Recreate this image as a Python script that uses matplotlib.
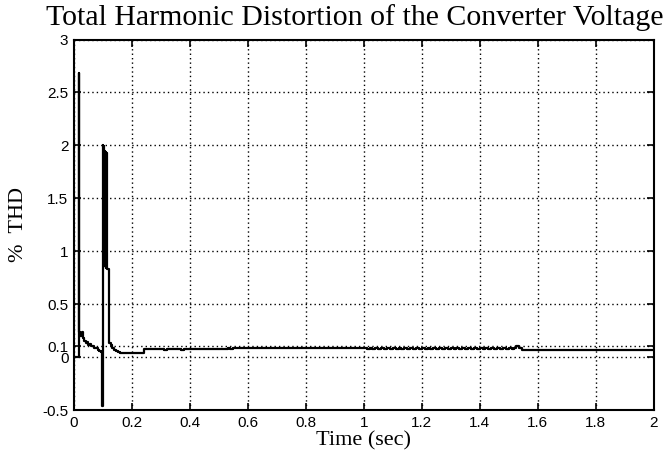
import matplotlib
matplotlib.use("Agg")
import matplotlib.pyplot as plt

# time (s) and %THD, drawn as a stair-step trace
time_s = [0.0, 0.017, 0.0178, 0.022, 0.026, 0.030, 0.035, 0.040, 0.045, 0.050,
          0.055, 0.060, 0.068, 0.075, 0.082, 0.088, 0.094, 0.098, 0.0995,
          0.1005, 0.101, 0.102, 0.1025, 0.1035, 0.104, 0.105, 0.1055, 0.1065,
          0.107, 0.108, 0.1085, 0.1095, 0.110, 0.111, 0.1115, 0.1125,
          0.113, 0.120, 0.126, 0.132, 0.138, 0.145, 0.152, 0.160, 0.240,
          0.300, 0.310, 0.320, 0.370, 0.380, 0.390, 0.520, 0.530, 0.540, 0.550,
          1.000, 1.010, 1.020, 1.030, 1.040, 1.050, 1.060, 1.070, 1.080, 1.090,
          1.100, 1.110, 1.120, 1.130, 1.140, 1.150, 1.160, 1.170, 1.180, 1.190,
          1.200, 1.210, 1.220, 1.230, 1.240, 1.250, 1.260, 1.270, 1.280, 1.290,
          1.300, 1.310, 1.320, 1.330, 1.340, 1.350, 1.360, 1.370, 1.380, 1.390,
          1.400, 1.410, 1.420, 1.430, 1.440, 1.450, 1.460, 1.470, 1.480, 1.490,
          1.500, 1.510, 1.520, 1.525, 1.535, 1.545, 1.550, 2.000]
thd_pct = [0.0, 2.68, 0.24, 0.20, 0.24, 0.18, 0.15, 0.13, 0.14, 0.11,
           0.12, 0.10, 0.09, 0.085, 0.07, 0.06, 0.05, -0.46, 2.0,
           0.95, 1.99, 0.92, 1.97, 0.90, 1.96, 0.88, 1.95, 0.87,
           1.94, 0.86, 1.94, 0.85, 1.93, 0.84, 1.93, 0.84,
           0.83, 0.13, 0.11, 0.09, 0.07, 0.055, 0.045, 0.040, 0.075,
           0.078, 0.070, 0.078, 0.070, 0.080, 0.078, 0.072, 0.082, 0.076, 0.085,
           0.085, 0.075, 0.090, 0.072, 0.088, 0.074, 0.086, 0.078, 0.090, 0.075,
           0.087, 0.073, 0.089, 0.076, 0.086, 0.072, 0.088, 0.078, 0.090, 0.074,
           0.085, 0.077, 0.089, 0.073, 0.087, 0.079, 0.086, 0.074, 0.090, 0.076,
           0.088, 0.072, 0.086, 0.078, 0.089, 0.075, 0.087, 0.073, 0.085, 0.079,
           0.088, 0.074, 0.086, 0.077, 0.090, 0.073, 0.087, 0.076, 0.085, 0.078,
           0.082, 0.080, 0.084, 0.100, 0.082, 0.070, 0.065, 0.065]

xticks = [0, 0.2, 0.4, 0.6, 0.8, 1, 1.2, 1.4, 1.6, 1.8, 2]
xtick_labels = ["0", "0.2", "0.4", "0.6", "0.8", "1", "1.2", "1.4", "1.6", "1.8", "2"]
yticks = [-0.5, 0, 0.1, 0.5, 1, 1.5, 2, 2.5, 3]
ytick_labels = ["-0.5", "0", "0.1", "0.5", "1", "1.5", "2", "2.5", "3"]

serif = "Liberation Serif"
sans = "Liberation Sans"

fig = plt.figure(figsize=(6.63, 4.61), dpi=100)
ax = fig.add_axes([0.1116, 0.1106, 0.8741, 0.8037])

ax.plot(time_s, thd_pct, drawstyle="steps-post", color="black", linewidth=1.6)

ax.set_xlim(0, 2)
ax.set_ylim(-0.5, 3)
ax.set_xticks(xticks)
ax.set_xticklabels(xtick_labels, fontfamily=sans, fontsize=11)
ax.set_yticks(yticks)
ax.set_yticklabels(ytick_labels, fontfamily=sans, fontsize=11)

ax.grid(True, color="black", linestyle=(0, (1, 2.2)), linewidth=1.0)
ax.tick_params(direction="in", length=5, width=1.2, top=True, right=True, pad=4)
for s in ax.spines.values():
    s.set_linewidth(1.5)

ax.set_xlabel("Time (sec)", fontfamily=serif, fontsize=16, labelpad=1)
ax.set_ylabel("%  THD", fontfamily=serif, fontsize=16, labelpad=10)
fig.text(0.5355, 0.962, "Total Harmonic Distortion of the Converter Voltage",
         fontfamily=serif, fontsize=21.5, ha="center", va="center")

fig.savefig("out.png", dpi=100)
